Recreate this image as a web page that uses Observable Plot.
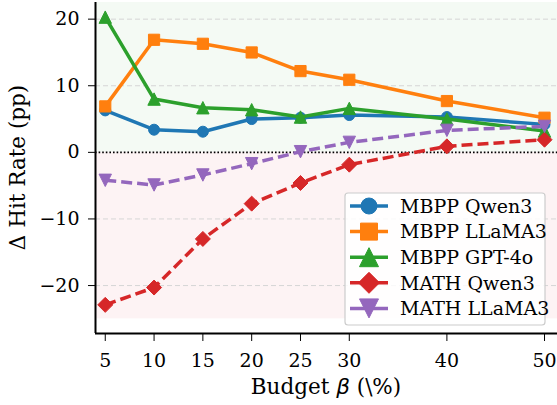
<!DOCTYPE html>
<html>
<head>
<meta charset="utf-8">
<script src="https://cdn.jsdelivr.net/npm/d3@7"></script>
<script src="https://cdn.jsdelivr.net/npm/@observablehq/plot@0.6"></script>
<style>
  html, body { margin: 0; padding: 0; background: #fff; }
  #chart { position: relative; width: 557px; height: 405px; }
</style>
</head>
<body>
<div id="chart"></div>
<script>
// ---- data ----
const budgets = [5, 10, 15, 20, 25, 30, 40, 50];
const seriesNames = ["MBPP Qwen3", "MBPP LLaMA3", "MBPP GPT-4o", "MATH Qwen3", "MATH LLaMA3"];
const mbppQwen3  = [6.3, 3.4, 3.1, 5.0, 5.2, 5.6, 5.3, 4.2];
const mbppLlama3 = [6.9, 16.9, 16.3, 15.0, 12.2, 10.9, 7.7, 5.2];
const mbppGpt4o  = [20.3, 8.0, 6.7, 6.4, 5.3, 6.6, 5.0, 3.2];
const mathQwen3  = [-22.9, -20.3, -13.0, -7.7, -4.6, -1.85, 0.9, 1.9];
const mathLlama3 = [-4.2, -4.9, -3.4, -1.7, 0.1, 1.5, 3.3, 3.9];
const xTicks = [5, 10, 15, 20, 25, 30, 40, 50];
const yTicks = [-20, -10, 0, 10, 20];
const yGrid = [-20, -10, 10, 20];

// ---- styling ----
const FONT = "DejaVu Serif";
const colors = ["#1f77b4", "#ff7f0e", "#2ca02c", "#d62728", "#9467bd"];
const dashed = [false, false, false, true, true];
const values = [mbppQwen3, mbppLlama3, mbppGpt4o, mathQwen3, mathLlama3];

const poly = (pts) => ({
  draw(ctx, size) {
    const r = Math.sqrt(size / Math.PI);
    ctx.moveTo(pts[0][0] * r, pts[0][1] * r);
    for (let k = 1; k < pts.length; k++) ctx.lineTo(pts[k][0] * r, pts[k][1] * r);
    ctx.closePath();
  }
});
const symbols = [
  d3.symbolCircle,
  poly([[-1, -1], [1, -1], [1, 1], [-1, 1]]),
  poly([[0, -1], [1, 1], [-1, 1]]),
  poly([[0, -1], [1, 0], [0, 1], [-1, 0]]),
  poly([[0, 1], [1, -1], [-1, -1]])
];
const markR = [5.5, 5.6, 6.2, 7.5, 6.2];
const legR = [8, 8.5, 9.5, 10.5, 9.5];

const xDomain = [4, 51.33];
const yDomain = [-27.2, 22.5];

const rows = [];
seriesNames.forEach((s, i) => budgets.forEach((b, j) => rows.push({series: s, idx: i, x: b, y: values[i][j]})));

const marks = [
  Plot.rect([{y1: 0, y2: yDomain[1], f: "#f4faf4"}, {y1: -25, y2: 0, f: "#fdf3f4"}],
    {x1: xDomain[0], x2: xDomain[1], y1: "y1", y2: "y2", fill: "f"}),
  Plot.ruleY(yGrid, {stroke: "#d6d6d6", strokeWidth: 1, strokeDasharray: "5,3"}),
  Plot.ruleY([0], {stroke: "#000", strokeWidth: 1.6, strokeDasharray: "1.6,2"}),
];
seriesNames.forEach((s, i) => {
  const d = rows.filter(r => r.idx === i);
  marks.push(Plot.line(d, {x: "x", y: "y", stroke: colors[i], strokeWidth: 3.5,
    strokeDasharray: dashed[i] ? "11,5" : null, strokeLinejoin: "round", strokeLinecap: dashed[i] ? "butt" : "round"}));
  marks.push(Plot.dot(d, {x: "x", y: "y", symbol: symbols[i], r: markR[i], fill: colors[i], stroke: colors[i], strokeWidth: 1}));
});
marks.push(
  Plot.ruleX([xDomain[0]], {stroke: "#000", strokeWidth: 2}),
  Plot.ruleY([yDomain[0]], {stroke: "#000", strokeWidth: 2}),
  Plot.axisX({ticks: xTicks, tickSize: 8, tickPadding: 12, label: null, tickFormat: d => String(d)}),
  Plot.axisY({ticks: yTicks, tickSize: 7, tickPadding: 9, label: null, tickFormat: d => (d < 0 ? "\u2212" + Math.abs(d) : String(d))})
);

const plot = Plot.plot({
  width: 557,
  height: 405,
  marginLeft: 95,
  marginRight: 0,
  marginTop: 2,
  marginBottom: 72,
  x: {domain: xDomain, type: "linear"},
  y: {domain: yDomain},
  style: {fontFamily: FONT, fontSize: "19px", color: "#000", background: "#fff"},
  marks
});
document.getElementById("chart").appendChild(plot);

const svg = d3.select(plot);
svg.selectAll("text").attr("font-family", FONT).attr("font-size", 19);

// axis titles
svg.append("text")
  .attr("transform", "translate(25,167.5) rotate(-90)")
  .attr("text-anchor", "middle")
  .attr("font-family", FONT).attr("font-size", 21.5).attr("fill", "#000")
  .text("\u0394 Hit Rate (pp)");
const xl = svg.append("text")
  .attr("x", 326).attr("y", 394)
  .attr("text-anchor", "middle")
  .attr("font-family", FONT).attr("font-size", 21.5).attr("fill", "#000");
xl.append("tspan").text("Budget ");
xl.append("tspan").attr("font-family", "DejaVu Sans").attr("font-style", "italic").text("\u03b2");
xl.append("tspan").text(" (\\%)");

// legend
const lg = svg.append("g");
lg.append("rect").attr("x", 345).attr("y", 193).attr("width", 200).attr("height", 132)
  .attr("rx", 3).attr("fill", "#fff").attr("fill-opacity", 0.85).attr("stroke", "#cccccc").attr("stroke-width", 1.2);
seriesNames.forEach((s, i) => {
  const cy = 206 + i * 25.6;
  lg.append("line").attr("x1", 350).attr("x2", 388).attr("y1", cy).attr("y2", cy)
    .attr("stroke", colors[i]).attr("stroke-width", 3.5);
  lg.append("path").attr("transform", `translate(369,${cy})`)
    .attr("d", d3.symbol(symbols[i], legR[i] * legR[i] * Math.PI)())
    .attr("fill", colors[i]).attr("stroke", colors[i]);
  lg.append("text").attr("x", 400).attr("y", cy).attr("dy", "0.36em")
    .attr("text-anchor", "start")
    .attr("font-family", FONT).attr("font-size", 19).attr("fill", "#000")
    .text(s);
});
</script>
</body>
</html>
